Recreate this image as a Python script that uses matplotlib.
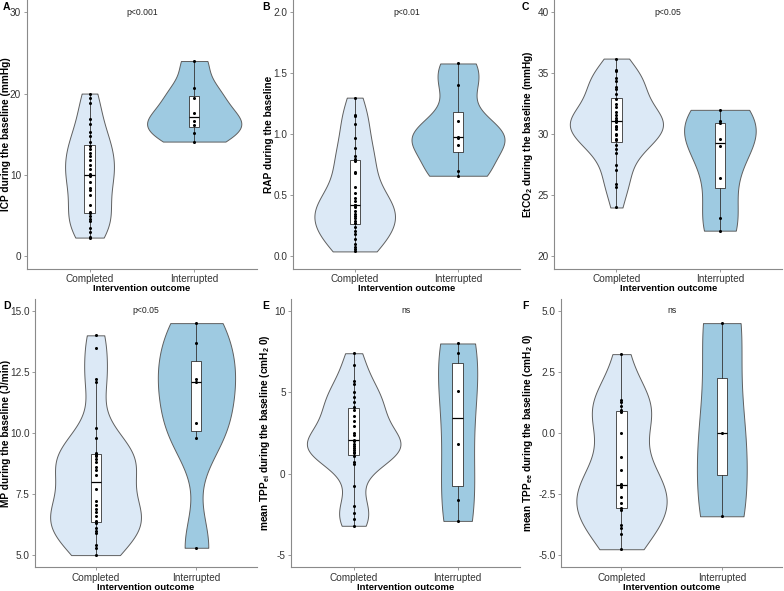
import numpy as np
import matplotlib.pyplot as plt
import matplotlib.transforms as mtransforms

plt.rcParams['font.family'] = ['Liberation Sans', 'DejaVu Sans']
plt.rcParams['mathtext.fontset'] = 'custom'
plt.rcParams['mathtext.rm'] = 'Liberation Sans'
plt.rcParams['mathtext.default'] = 'regular'
plt.rcParams['axes.unicode_minus'] = False

groups = ['Completed', 'Interrupted']

# values
icp_completed = [2.3, 2.4, 3.0, 3.5, 4.3, 4.6, 5.0, 5.3, 5.4, 6.3, 7.5, 8.2, 8.4, 9.1, 9.9, 10.0,
                 10.1, 10.7, 11.2, 11.8, 12.3, 12.7, 13.2, 13.5, 14.0, 14.8, 15.3, 16.2, 16.9, 18.8, 19.4, 20.0]
icp_interrupted = [14.1, 15.2, 16.1, 16.6, 17.6, 19.4, 20.7, 24.0]

rap_completed = [0.04, 0.06, 0.08, 0.10, 0.14, 0.18, 0.21, 0.24,
                 0.27, 0.29, 0.31, 0.33, 0.35, 0.37, 0.40, 0.42,
                 0.42, 0.45, 0.48, 0.52, 0.57, 0.68, 0.69, 0.78,
                 0.80, 0.82, 0.89, 0.97, 1.08, 1.15, 1.16, 1.30]
rap_interrupted = [0.66, 0.70, 0.91, 0.97, 0.98, 1.11, 1.40, 1.58]

etco2_completed = [24.0, 25.7, 25.9, 27.1, 27.5, 28.5, 28.8, 29.1, 29.5, 29.6, 29.9, 30.0, 30.4, 30.6, 30.7, 31.0,
                   31.1, 31.2, 31.3, 31.6, 31.8, 32.2, 32.5, 32.9, 33.3, 33.7, 33.9, 34.4, 34.6, 35.2, 35.3, 36.2]
etco2_interrupted = [22.1, 23.1, 26.4, 29.0, 29.6, 30.9, 31.1, 32.0]

mp_completed = [5.0, 5.3, 5.4, 5.9, 6.0, 6.1, 6.3, 6.4, 6.6, 6.75, 6.9, 7.05, 7.2, 7.7,
                8.3, 8.5, 8.6, 8.8, 8.95, 9.05, 9.1, 9.2, 9.8, 10.2, 12.1, 12.2, 13.5, 14.0]
mp_interrupted = [5.3, 9.8, 10.4, 12.1, 12.2, 13.7, 14.5]

tppei_completed = [-3.2, -2.8, -2.4, -2.0, -0.75, 0.6, 0.7, 1.1, 1.25, 1.35, 1.45, 1.6, 1.7, 1.8, 2.0,
                   2.1, 2.4, 2.5, 2.95, 3.25, 3.55, 3.9, 4.1, 4.4, 4.7, 5.0, 5.5, 5.7, 6.7, 7.4]
tppei_interrupted = [-2.9, -1.6, 1.8, 5.1, 7.4, 8.0]

tppee_completed = [-4.76, -4.13, -3.9, -3.75, -3.15, -3.07, -2.88, -2.64, -2.2, -2.15,
                   -2.1, -1.51, -1.0, 0.0, 0.86, 0.96, 1.1, 1.28, 1.37, 3.23]
tppee_interrupted = [-3.41, 0.0, 4.5]

letters = ['A', 'B', 'C', 'D', 'E', 'F']
pvalues = ['p<0.001', 'p<0.01', 'p<0.05', 'p<0.05', 'ns', 'ns']
ylabels = ['ICP during the baseline (mmHg)',
           'RAP during the baseline',
           'EtCO$_2$ during the baseline (mmHg)',
           'MP during the baseline (J/min)',
           'mean TPP$_{ei}$ during the baseline (cmH$_2$ 0)',
           'mean TPP$_{ee}$ during the baseline (cmH$_2$ 0)']
yticks = [[0, 10, 20, 30],
          [0.0, 0.5, 1.0, 1.5, 2.0],
          [20, 25, 30, 35, 40],
          [5.0, 7.5, 10.0, 12.5, 15.0],
          [-5, 0, 5, 10],
          [-5.0, -2.5, 0.0, 2.5, 5.0]]
tickfmt = ['{:.0f}', '{:.1f}', '{:.0f}', '{:.1f}', '{:.0f}', '{:.1f}']
datasets = [(icp_completed, icp_interrupted), (rap_completed, rap_interrupted),
            (etco2_completed, etco2_interrupted), (mp_completed, mp_interrupted),
            (tppei_completed, tppei_interrupted), (tppee_completed, tppee_interrupted)]

fills = ['#dce9f6', '#9ecae1']


def nrd0(x):
    x = np.asarray(x, float)
    sd = np.std(x, ddof=1)
    q1, q3 = np.percentile(x, [25, 75])
    lo = min(sd, (q3 - q1) / 1.34)
    if lo == 0:
        lo = sd
    return 0.9 * lo * len(x) ** -0.2


def density(x):
    x = np.asarray(x, float)
    bw = nrd0(x)
    y = np.linspace(x.min(), x.max(), 512)
    d = np.exp(-0.5 * ((y[:, None] - x[None, :]) / bw) ** 2).sum(1) / (len(x) * bw * np.sqrt(2 * np.pi))
    return y, d


W, H = 784, 591
fig = plt.figure(figsize=(W / 100, H / 100), dpi=100)

# panel boxes in pixels: left, right, top, bottom
boxes = [(26.7, 257, 0, 268.5), (292.7, 520, 0, 268.5), (554.3, 782, 0, 268.5),
         (35, 257, 298.7, 567.3), (291.3, 520, 298.7, 567.3), (561.3, 782, 298.7, 567.3)]
letter_x = [3, 262, 522, 3, 262, 522]
ylabel_x = [10.8, 273.5, 535, 10.8, 272.5, 535]

for i in range(6):
    l, r, t, b = boxes[i]
    ax = fig.add_axes([l / W, 1 - b / H, (r - l) / W, (b - t) / H])
    data = datasets[i]

    dens = [density(v) for v in data]
    dmax = max(d.max() for _, d in dens)
    for k, (y, d) in enumerate(dens):
        half = d / dmax * 0.45
        ax.fill_betweenx(y, k + 1 - half, k + 1 + half, facecolor=fills[k],
                         edgecolor='#5f5f5f', linewidth=0.7, zorder=1)

    ax.boxplot(data, positions=[1, 2], widths=0.1, whis=1.5, showfliers=False,
               showcaps=False, patch_artist=True, manage_ticks=False,
               boxprops=dict(facecolor='white', edgecolor='#333333', linewidth=0.6),
               whiskerprops=dict(color='#333333', linewidth=0.6),
               medianprops=dict(color='black', linewidth=0.9), zorder=2)

    for k, v in enumerate(data):
        ax.plot([k + 1] * len(v), v, 'o', color='black', markersize=2.2,
                markeredgewidth=0, zorder=3)

    tk = yticks[i]
    span = tk[-1] - tk[0]
    ax.set_ylim(tk[0] - 0.05 * span, tk[-1] + 0.05 * span)
    ax.set_yticks(tk)
    ax.set_yticklabels([tickfmt[i].format(v) for v in tk])
    ax.set_xlim(0.4, 2.6)
    ax.set_xticks([1, 2])
    ax.set_xticklabels(groups)

    for s in ['top', 'right']:
        ax.spines[s].set_visible(False)
    for s in ['left', 'bottom']:
        ax.spines[s].set_color('#8a8a8a')
        ax.spines[s].set_linewidth(0.8)
    ax.tick_params(colors='#8a8a8a', labelcolor='#333333', labelsize=7.2, length=2.5, width=0.6, pad=1.5)

    ax.set_xlabel('Intervention outcome', fontsize=6.8, fontweight='bold', labelpad=0)
    ax.set_ylabel(ylabels[i], fontsize=7.3, fontweight='bold')
    trans = mtransforms.blended_transform_factory(fig.transFigure, ax.transAxes)
    ax.yaxis.set_label_coords(ylabel_x[i] / W, 0.5, transform=trans)

    ax.text(1.5, tk[-1], pvalues[i], ha='center', va='center', fontsize=6.2, color='#222222')
    fig.text(letter_x[i] / W, 1 - (t + 2) / H, letters[i], ha='left', va='top',
             fontsize=7.5, fontweight='bold')

fig.savefig('out.png', dpi=100)
